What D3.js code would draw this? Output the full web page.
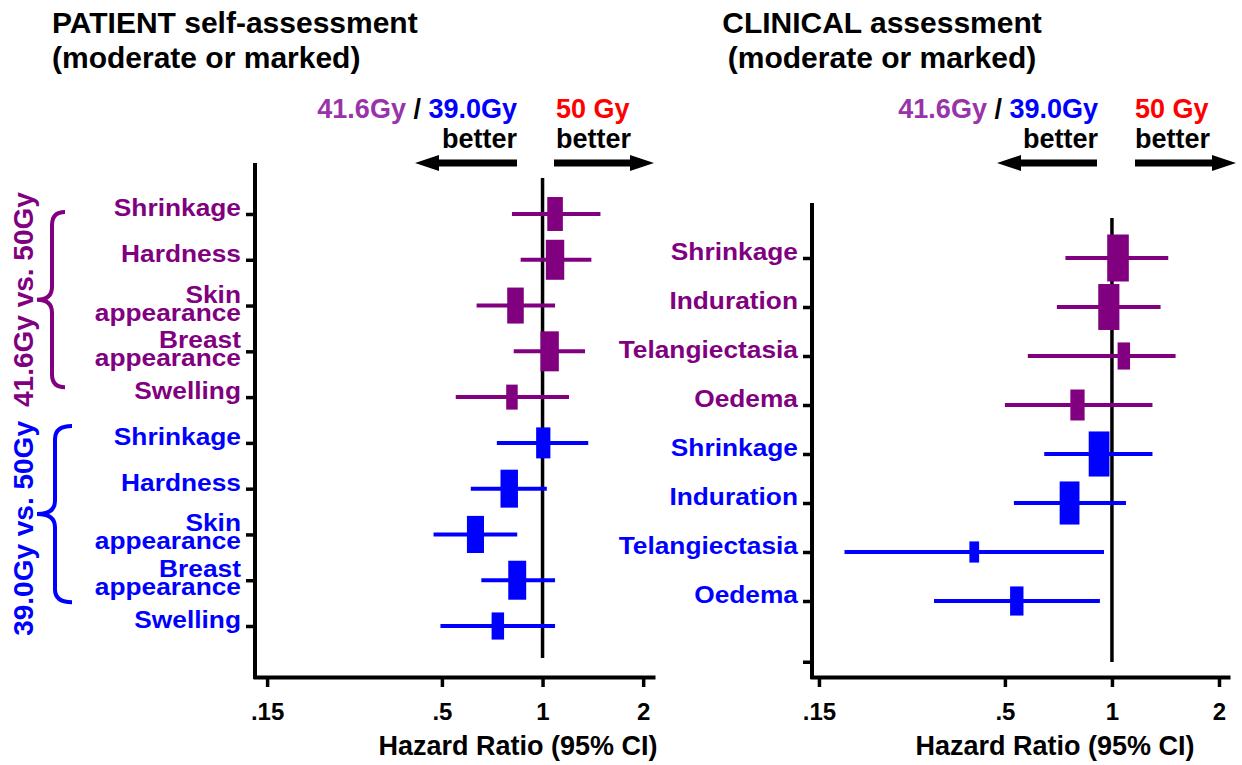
<!DOCTYPE html>
<html>
<head>
<meta charset="utf-8">
<script src="https://d3js.org/d3.v7.min.js"></script>
<style>
  body { margin: 0; background: #fff; }
  text { font-family: "Liberation Sans", Arial, sans-serif; font-weight: bold; }
</style>
</head>
<body>
<script>
// colours
const purple = "#800080", violet = "#9933aa", blue = "#0000ff", red = "#ff0000";

// PATIENT self-assessment (moderate or marked)
const patientOutcomes = ["Shrinkage", "Hardness", "Skin appearance", "Breast appearance", "Swelling",
                         "Shrinkage", "Hardness", "Skin appearance", "Breast appearance", "Swelling"];
const patientArm = ["41.6Gy", "41.6Gy", "41.6Gy", "41.6Gy", "41.6Gy",
                    "39.0Gy", "39.0Gy", "39.0Gy", "39.0Gy", "39.0Gy"];
const patientHR    = [1.09, 1.09, 0.83, 1.05, 0.81, 1.005, 0.795, 0.63, 0.84, 0.735];
const patientLower = [0.81, 0.86, 0.635, 0.82, 0.55, 0.73, 0.61, 0.472, 0.656, 0.495];
const patientUpper = [1.49, 1.40, 1.09, 1.34, 1.20, 1.37, 1.03, 0.84, 1.09, 1.09];
const patientWeight = [72, 100, 81, 100, 39, 60, 90, 86, 95, 46];

// CLINICAL assessment (moderate or marked)
const clinicalOutcomes = ["Shrinkage", "Induration", "Telangiectasia", "Oedema",
                          "Shrinkage", "Induration", "Telangiectasia", "Oedema"];
const clinicalArm = ["41.6Gy", "41.6Gy", "41.6Gy", "41.6Gy",
                     "39.0Gy", "39.0Gy", "39.0Gy", "39.0Gy"];
const clinicalHR    = [1.04, 0.98, 1.08, 0.80, 0.92, 0.76, 0.41, 0.54];
const clinicalLower = [0.74, 0.70, 0.58, 0.50, 0.645, 0.53, 0.177, 0.316];
const clinicalUpper = [1.44, 1.37, 1.51, 1.30, 1.30, 1.095, 0.95, 0.925];
const clinicalWeight = [138, 132, 46, 60, 127, 116, 28, 53];

// x axis ticks
const tickValues = [0.15, 0.5, 1, 2];
const tickLabels = [".15", ".5", "1", "2"];

const svg = d3.select("body").append("svg")
  .attr("width", 1242)
  .attr("height", 765);

const sizeScale = d3.scaleSqrt().domain([0, 100]).range([0, 40]);
const armColor = d3.scaleOrdinal().domain(["41.6Gy", "39.0Gy"]).range([purple, blue]);

function arrowPath(x0, x1, yy) {
  const dir = Math.sign(x1 - x0), hl = 24, sw = 3.5, hw = 8;
  const xb = x1 - dir * hl;
  return `M${x0},${yy - sw}L${xb},${yy - sw}L${xb},${yy - hw}L${x1},${yy}L${xb},${yy + hw}L${xb},${yy + sw}L${x0},${yy + sw}Z`;
}

function bracePath(xTip, xMid, xPoint, y0, y1, ym) {
  const r = 13;
  return `M${xTip},${y0}Q${xMid},${y0} ${xMid},${y0 + r}L${xMid},${ym - r}` +
         `Q${xMid},${ym} ${xPoint},${ym}Q${xMid},${ym} ${xMid},${ym + r}` +
         `L${xMid},${y1 - r}Q${xMid},${y1} ${xTip},${y1}`;
}

function drawPanel(p) {
  const n = p.outcomes.length;
  const rows = d3.range(n).map(i => ({
    i, outcome: p.outcomes[i], arm: p.arm[i],
    hr: p.hr[i], lo: p.lower[i], hi: p.upper[i], w: p.weight[i]
  }));

  const x = d3.scaleLog().domain(p.domain).range([p.left, p.right]);
  const y = d3.scalePoint().domain(d3.range(n)).range([p.rowTop, p.rowBottom]);
  const g = svg.append("g");

  // title
  g.append("text")
    .attr("text-anchor", p.titleAnchor)
    .style("font-size", "30px")
    .selectAll("tspan")
    .data(p.title)
    .join("tspan")
    .attr("x", p.titleX)
    .attr("y", (d, i) => 33 + i * 35)
    .text(d => d);

  // "41.6Gy / 39.0Gy better"  /  "50 Gy better"
  const hdr = g.append("text")
    .attr("x", p.hdrEnd).attr("y", 118)
    .attr("text-anchor", "end")
    .style("font-size", "27px")
    .style("white-space", "pre");
  hdr.append("tspan").attr("fill", violet).text("41.6Gy");
  hdr.append("tspan").attr("fill", "#000").text(" / ");
  hdr.append("tspan").attr("fill", blue).text("39.0Gy");

  g.append("text").attr("x", p.hdrStart).attr("y", 118)
    .attr("fill", red).style("font-size", "27px").text("50 Gy");
  g.append("text").attr("x", p.hdrEnd).attr("y", 148)
    .attr("text-anchor", "end").style("font-size", "27px").text("better");
  g.append("text").attr("x", p.hdrStart).attr("y", 148)
    .style("font-size", "27px").text("better");

  g.append("path").attr("d", arrowPath(p.arrowL[0], p.arrowL[1], 163)).attr("fill", "#000");
  g.append("path").attr("d", arrowPath(p.arrowR[0], p.arrowR[1], 163)).attr("fill", "#000");

  // y axis
  g.append("line")
    .attr("x1", p.left).attr("x2", p.left)
    .attr("y1", p.axisTop).attr("y2", p.axisY + 2)
    .attr("stroke", "#000").attr("stroke-width", 4);

  const yAxis = g.append("g")
    .attr("transform", `translate(${p.left},0)`)
    .call(d3.axisLeft(y).tickSize(9).tickSizeOuter(0).tickFormat(""));
  yAxis.select(".domain").remove();
  yAxis.selectAll("line").attr("stroke", "#000").attr("stroke-width", 3.5);

  if (p.extraTick) {
    g.append("line")
      .attr("x1", p.left - 9).attr("x2", p.left)
      .attr("y1", y(n - 1) + y.step() * 1.25).attr("y2", y(n - 1) + y.step() * 1.25)
      .attr("stroke", "#000").attr("stroke-width", 3.5);
  }

  // x axis
  const xAxis = g.append("g")
    .attr("transform", `translate(0,${p.axisY})`)
    .call(d3.axisBottom(x)
      .tickValues(tickValues)
      .tickFormat((d, i) => tickLabels[i])
      .tickSize(10)
      .tickSizeOuter(0)
      .tickPadding(16));
  xAxis.attr("font-family", null).attr("font-size", null);
  xAxis.select(".domain").attr("stroke-width", 4).attr("stroke-linecap", "square");
  xAxis.selectAll(".tick line").attr("stroke-width", 3.5);
  xAxis.selectAll(".tick text").style("font-size", "24px");

  g.append("text")
    .attr("x", p.axisTitleX).attr("y", 755)
    .attr("text-anchor", "middle")
    .style("font-size", "27px")
    .text("Hazard Ratio (95% CI)");

  // line of no effect
  g.append("line")
    .attr("x1", x(1)).attr("x2", x(1))
    .attr("y1", p.refTop).attr("y2", p.refBottom)
    .attr("stroke", "#000").attr("stroke-width", 3.5);

  // outcome labels (wide bold type, stretched a little horizontally)
  const labels = g.append("g")
    .attr("transform", `translate(${p.left - 14},0) scale(1.12,1)`);
  labels.selectAll("text")
    .data(rows)
    .join("text")
    .attr("text-anchor", "end")
    .attr("fill", d => armColor(d.arm))
    .style("font-size", "23.5px")
    .each(function(d) {
      const words = d.outcome.split(" ");
      const base = words.length > 1 ? y(d.i) - 3 : y(d.i) + 2;
      d3.select(this).selectAll("tspan")
        .data(words)
        .join("tspan")
        .attr("x", 0)
        .attr("y", (w, k) => base + k * 18)
        .text(w => w);
    });

  // confidence intervals
  g.selectAll(".ci")
    .data(rows)
    .join("line")
    .attr("class", "ci")
    .attr("x1", d => x(d.lo))
    .attr("x2", d => x(d.hi))
    .attr("y1", d => y(d.i))
    .attr("y2", d => y(d.i))
    .attr("stroke", d => armColor(d.arm))
    .attr("stroke-width", 4);

  // point estimates
  g.selectAll(".box")
    .data(rows)
    .join("rect")
    .attr("class", "box")
    .attr("x", d => x(d.hr) - sizeScale(d.w) * 0.23)
    .attr("y", d => y(d.i) - sizeScale(d.w) / 2)
    .attr("width", d => sizeScale(d.w) * 0.46)
    .attr("height", d => sizeScale(d.w))
    .attr("fill", d => armColor(d.arm));

  // comparison braces
  (p.groups || []).forEach(gr => {
    const y0 = y(gr.first) + gr.top, y1 = y(gr.first + 3) + gr.bottom;
    g.append("path")
      .attr("d", bracePath(gr.xTip, gr.xMid, 37, y0, y1, (y0 + y1) / 2))
      .attr("fill", "none")
      .attr("stroke", gr.color)
      .attr("stroke-width", 4);
    const cy = (y(gr.first) + y(gr.first + 4)) / 2 - 6;
    g.append("text")
      .attr("transform", `translate(33,${cy}) rotate(-90)`)
      .attr("text-anchor", "middle")
      .attr("fill", gr.color)
      .style("font-size", "28px")
      .text(gr.label);
  });
}

drawPanel({
  outcomes: patientOutcomes, arm: patientArm,
  hr: patientHR, lower: patientLower, upper: patientUpper, weight: patientWeight,
  domain: [0.138, 2.14], left: 255, right: 653,
  rowTop: 214, rowBottom: 626, axisTop: 163, axisY: 677,
  refTop: 178, refBottom: 658,
  title: ["PATIENT self-assessment", "(moderate or marked)"], titleX: 52, titleAnchor: "start",
  hdrEnd: 517, hdrStart: 556, arrowL: [517, 415], arrowR: [554, 654],
  axisTitleX: 518,
  groups: [
    {label: "41.6Gy vs. 50Gy", first: 0, color: purple, xMid: 52, xTip: 65, top: -2, bottom: 36},
    {label: "39.0Gy vs. 50Gy", first: 5, color: blue, xMid: 55, xTip: 72, top: -17, bottom: 22}
  ]
});

drawPanel({
  outcomes: clinicalOutcomes, arm: clinicalArm,
  hr: clinicalHR, lower: clinicalLower, upper: clinicalUpper, weight: clinicalWeight,
  domain: [0.1434, 2.12], left: 812, right: 1228,
  rowTop: 258, rowBottom: 601, axisTop: 203, axisY: 677,
  refTop: 218, refBottom: 662,
  title: ["CLINICAL assessment", "(moderate or marked)"], titleX: 882, titleAnchor: "middle",
  hdrEnd: 1098, hdrStart: 1135, arrowL: [1097, 997], arrowR: [1135, 1236],
  axisTitleX: 1055,
  extraTick: true
});
</script>
</body>
</html>
